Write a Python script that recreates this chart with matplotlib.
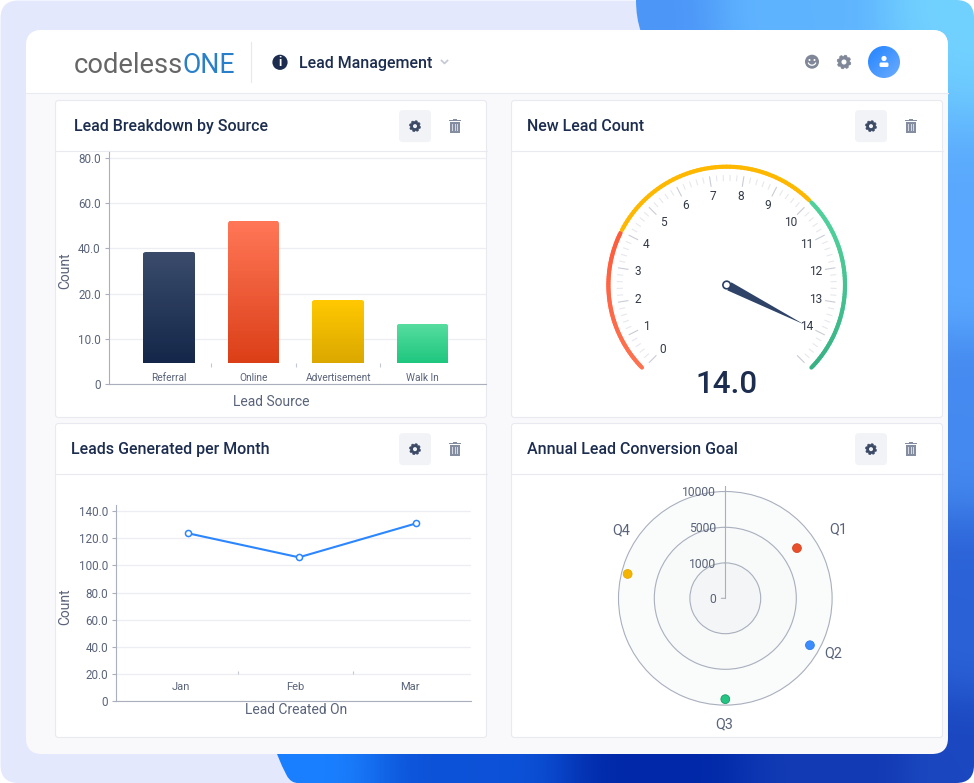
import numpy as np
import matplotlib
matplotlib.use('Agg')
import matplotlib.pyplot as plt
from matplotlib.collections import LineCollection
from matplotlib.colors import LinearSegmentedColormap, to_rgb
from matplotlib.patches import Circle, FancyBboxPatch, PathPatch, Polygon, Rectangle
from matplotlib.path import Path
from matplotlib.transforms import IdentityTransform

plt.rcParams['font.family'] = ['Roboto', 'DejaVu Sans']

# Bar chart data
sources = ['Referral', 'Online', 'Advertisement', 'Walk In']
source_counts = [38.5, 52.0, 18.6, 13.3]
source_ticks = [0, 10, 20, 40, 60, 80]
source_tick_labels = ['0', '10.0', '20.0', '40.0', '60.0', '80.0']
bar_base = 4.7

# Line chart data
months = ['Jan', 'Feb', 'Mar']
month_points = [0.06, 1.03, 2.05]
month_counts = [123.8, 106.0, 131.0]
month_ticks = [0, 20, 40, 60, 80, 100, 120, 140]
month_tick_labels = ['0', '20.0', '40.0', '60.0', '80.0', '100.0', '120.0', '140.0']

# Gauge data
gauge_value = 14.0
gauge_min, gauge_max = 0, 15
gauge_labels = list(range(0, 15))
gauge_zones = [(0, 4), (4, 10), (10, 15)]

# Radar data
quarters = ['Q1', 'Q2', 'Q3', 'Q4']
quarter_angles = [55, 119, 180, 284]
quarter_values = [7300, 8600, 9170, 9140]
radar_ticks = [0, 1000, 5000, 10000]

NAVY = '#1c2d4f'
GREY = '#596379'
AXIS = '#a9afbd'
GRID = '#eceef3'
W, H = 974, 783

fig = plt.figure(figsize=(W / 100, H / 100), dpi=100, facecolor='white')
bg = fig.add_axes([0, 0, 1, 1], zorder=0)
bg.set_xlim(0, W)
bg.set_ylim(H, 0)
bg.axis('off')


def chart_axes(left, top, right, bottom, **kw):
    ax = fig.add_axes([left / W, 1 - bottom / H, (right - left) / W, (bottom - top) / H], zorder=2, **kw)
    ax.patch.set_alpha(0)
    return ax


def rounded(x0, y0, x1, y1, r, **kw):
    p = FancyBboxPatch((x0, y0), x1 - x0, y1 - y0, boxstyle=f'round,pad=0,rounding_size={r}', **kw)
    bg.add_patch(p)
    return p


def gear(cx, cy, r, color, hole):
    ang = np.radians(np.arange(0, 360, 15) + 7.5)
    rad = np.where(np.arange(24) % 3 == 2, r * 0.78, r)
    bg.add_patch(Polygon(np.c_[cx + rad * np.cos(ang), cy + rad * np.sin(ang)], fc=color, ec=color, lw=0.4, zorder=6))
    bg.add_patch(Circle((cx, cy), r * 0.36, fc=hole, ec='none', zorder=6))


def trash(cx, cy):
    c = '#858da0'
    bg.add_patch(Rectangle((cx - 5, cy - 4), 10, 10.5, fc=c, ec='none', zorder=6))
    bg.add_patch(Rectangle((cx - 6, cy - 6), 12, 1.3, fc=c, ec='none', zorder=6))
    bg.add_patch(Rectangle((cx - 2, cy - 7.5), 4, 1.5, fc=c, ec='none', zorder=6))
    for dx in (-2.5, 0, 2.5):
        bg.add_patch(Rectangle((cx + dx - 0.5, cy - 2.5), 1, 7.5, fc='#d5d8e0', ec='none', zorder=6))


# Blue shape behind the main card
ctrl = np.array([[974, 0, 0x72, 0xd2, 0xff], [800, 5, 0x5f, 0xb4, 0xff], [640, 15, 0x4c, 0x96, 0xf8],
                 [974, 250, 0x5a, 0xa8, 0xff], [974, 420, 0x45, 0x8a, 0xf0], [974, 620, 0x2b, 0x62, 0xd8],
                 [974, 783, 0x1b, 0x48, 0xc0], [850, 770, 0x12, 0x3a, 0xb4], [660, 770, 0x00, 0x28, 0xa8],
                 [470, 770, 0x0c, 0x52, 0xd8], [285, 770, 0x1a, 0x80, 0xff]], dtype=float)
gx, gy = np.meshgrid(np.linspace(270, 974, 90), np.linspace(0, 783, 90))
d = np.hypot(gx[..., None] - ctrl[:, 0], gy[..., None] - ctrl[:, 1]) + 1
wts = d ** -3.0
grad = (wts[..., None] * ctrl[:, 2:]).sum(axis=2) / wts.sum(axis=2, keepdims=True) / 255

rounded(0.5, 0.5, W, H, 18, fc='#e4e8fc', ec='none', zorder=1)
verts = [(654, 0), (956, 0), (974, 0), (974, 18), (974, 765), (974, 783), (956, 783), (298, 783), (291, 783), (287, 776),
         (282, 766), (277, 754), (641, 32), (636, 18), (636, 0), (654, 0), (654, 0)]
codes = [Path.MOVETO, Path.LINETO, Path.CURVE3, Path.CURVE3, Path.LINETO, Path.CURVE3, Path.CURVE3, Path.LINETO,
         Path.CURVE3, Path.CURVE3, Path.LINETO, Path.LINETO, Path.LINETO, Path.CURVE3, Path.CURVE3, Path.LINETO, Path.CLOSEPOLY]
blue = PathPatch(Path(verts, codes), fc='none', ec='none', zorder=2)
bg.add_patch(blue)
im = bg.imshow(grad, extent=(270, 974, 783, 0), zorder=2, aspect='auto', interpolation='bicubic')
im.set_clip_path(blue)

# Main card and header
card = rounded(26, 30, 948, 754, 16, fc='#f9f9fc', ec='none', zorder=3)
head = Rectangle((26, 30), 922, 63, fc='white', ec='none', zorder=3)
bg.add_patch(head)
head.set_clip_path(card)
bg.plot([26, 948], [93, 93], color='#e9ebf2', lw=0.8, zorder=3)
bg.plot([250.5, 250.5], [42, 82], color='#e6e8ef', lw=0.8, zorder=3)
bg.text(73.5, 62.5, 'codeless', fontsize=19.7, color='#666666', va='center_baseline', ha='left', zorder=4)
bg.text(182.5, 62.5, 'ONE', fontsize=19.2, color='#2a7fc9', va='center_baseline', ha='left', zorder=4)
bg.add_patch(Circle((280, 62.3), 7.6, fc=NAVY, ec='none', zorder=4))
bg.text(280, 62.5, 'i', fontsize=9, color='white', weight='bold', ha='center', va='center', zorder=5)
bg.text(299, 61.7, 'Lead Management', fontsize=11.5, color=NAVY, weight='medium', va='center_baseline', zorder=4)
bg.plot([441.5, 444.5, 447.5], [60.5, 63.5, 60.5], color='#c4c8d2', lw=1.2, zorder=4)
bg.add_patch(Circle((812, 61.7), 7, fc='#7f8798', ec='none', zorder=4))
bg.add_patch(Circle((809.5, 60), 1, fc='white', ec='none', zorder=5))
bg.add_patch(Circle((814.5, 60), 1, fc='white', ec='none', zorder=5))
th = np.radians(np.linspace(20, 160, 15))
bg.plot(812 + 3.8 * np.cos(th), 62 + 3.2 * np.sin(th), color='white', lw=0.9, zorder=5)
avatar = Circle((884, 62), 16, fc='none', ec='none', zorder=4)
bg.add_patch(avatar)
av_cmap = LinearSegmentedColormap.from_list('av', ['#2284ff', '#6cacff'])
ag = bg.imshow(np.add.outer(np.linspace(0, 1, 32), np.linspace(0, 1, 32)), extent=(868, 900, 78, 46), cmap=av_cmap, aspect='auto', zorder=4)
ag.set_clip_path(avatar)
bg.set_xlim(0, W)
bg.set_ylim(H, 0)
bg.add_patch(Circle((884, 58.5), 2.6, fc='white', ec='none', zorder=5))
rounded(879.5, 62.5, 888.5, 67, 1.5, fc='white', ec='none', zorder=5)
gear(844, 62, 7, '#7f8798', 'white')

# Panel cards
panels = [(55.5, 100.5, 486.5, 417.5, 151, 'Lead Breakdown by Source', 74),
          (511.5, 100.5, 942.5, 417.5, 151, 'New Lead Count', 527),
          (55.5, 423.5, 486.5, 737.5, 474, 'Leads Generated per Month', 71),
          (511.5, 423.5, 942.5, 737.5, 474, 'Annual Lead Conversion Goal', 527)]
for x0, y0, x1, y1, yh, title, tx in panels:
    rounded(x0, y0, x1, y1, 3, fc='white', ec='#e8eaf0', lw=0.8, zorder=4)
    bg.plot([x0, x1], [yh, yh], color='#e8eaf0', lw=0.8, zorder=5)
    bg.text(tx, (y0 + yh) / 2 - 0.4, title, fontsize=11.5, color=NAVY, weight='medium', va='center_baseline', zorder=5)
    cy = (y0 + yh) / 2 + 0.4
    bx = x1 - 71.5
    rounded(bx - 16, cy - 16, bx + 16, cy + 16, 4, fc='#f1f3f7', ec='none', zorder=5)
    gear(bx, cy, 5.6, '#3c4a66', '#f1f3f7')
    trash(x1 - 31.5, cy)


def forward(v):
    return np.interp(v, [0, 10, 20, 40, 60, 80, 100], [0, 1, 2, 3, 4, 5, 6])


def inverse(p):
    return np.interp(p, [0, 1, 2, 3, 4, 5, 6], [0, 10, 20, 40, 60, 80, 100])


def style_axes(ax):
    for s in ('top', 'right'):
        ax.spines[s].set_visible(False)
    for s in ('left', 'bottom'):
        ax.spines[s].set_color(AXIS)
        ax.spines[s].set_linewidth(0.8)
    ax.grid(axis='y', color=GRID, lw=0.9)
    ax.set_axisbelow(True)
    ax.tick_params(axis='y', length=3, width=0.8, color=AXIS, labelcolor=GREY, labelsize=8.4, pad=3)
    ax.tick_params(axis='x', length=0, labelcolor=GREY, labelsize=7.3)


def axis_text(x, y, s, **kw):
    bg.text(x, y, s, fontsize=10, color=GREY, ha='center', va='center', zorder=6, **kw)


# Bar chart
ax1 = chart_axes(109.2, 152, 486, 384)
ax1.set_yscale('function', functions=(forward, inverse))
ax1.set_xlim(-0.711, 3.75)
ax1.set_ylim(0, 82.6)
ax1.autoscale(False)
style_axes(ax1)
ax1.set_yticks(source_ticks, source_tick_labels, va='center_baseline')
ax1.minorticks_off()
ax1.set_xticks(range(4), sources, va='center_baseline')
ax1.tick_params(axis='x', pad=-5)
axis_text(65.5, 271, 'Count', rotation=90)
axis_text(271, 401.5, 'Lead Source')
ax1.vlines([0.5, 1.5, 2.5], 3.8, bar_base, color='#c4c8d2', lw=0.8)
bar_colors = [('#3a4b6a', '#14274a'), ('#ff7656', '#db3f18'), ('#ffc800', '#dba800'), ('#55dc9e', '#1fc67f')]
bar_w = 0.61
bars = ax1.bar(range(4), np.array(source_counts) - bar_base, bottom=bar_base, width=bar_w, color=[c[1] for c in bar_colors], zorder=3)
fig.canvas.draw()
for i, (rect, val, cc) in enumerate(zip(bars, source_counts, bar_colors)):
    pts = ax1.transData.transform([[i - bar_w / 2, bar_base], [i + bar_w / 2, val]])
    # clip box runs below the base so only the top corners are rounded
    clip = FancyBboxPatch(pts[0] - [0, 10], pts[1][0] - pts[0][0], pts[1][1] - pts[0][1] + 10,
                          boxstyle='round,pad=0,rounding_size=2.5', transform=IdentityTransform())
    levels = inverse(np.linspace(forward(bar_base), forward(val), 41))
    cmap = LinearSegmentedColormap.from_list(f'b{i}', [cc[1], cc[0]])
    mesh = ax1.pcolormesh([i - bar_w / 2, i + bar_w / 2], levels, np.linspace(0, 1, 40)[:, None], cmap=cmap, zorder=4, antialiased=False)
    rect.set_visible(False)
    mesh.set_clip_path(clip)
ax1.set_xlim(-0.711, 3.75)
ax1.set_ylim(0, 82.6)

# Line chart
ax2 = chart_axes(116.3, 505, 471, 701)
ax2.set_xlim(-0.561, 2.529)
ax2.set_ylim(0, 144.6)
style_axes(ax2)
ax2.set_yticks(month_ticks, month_tick_labels, va='center_baseline')
ax2.set_xticks(range(3), months, va='center_baseline')
ax2.tick_params(axis='x', pad=-10.8, labelsize=8)
ax2.vlines([0.5, 1.5], 20, 22.5, color='#c4c8d2', lw=0.8)
ax2.plot(month_points, month_counts, color='#2b86ff', lw=1.5, marker='o', ms=4.4, mfc='white', mec='#2b86ff', mew=1.1, zorder=4)
axis_text(65.5, 606.7, 'Count', rotation=90)
axis_text(296.3, 710.5, 'Lead Created On')

# Gauge, axes units are pixels around the hub
gc_x, gc_y, gr = 726.7, 285, 130
ax3 = chart_axes(gc_x - gr, gc_y - gr, gc_x + gr, gc_y + gr)
ax3.set_xlim(-gr, gr)
ax3.set_ylim(-gr, gr)
ax3.axis('off')


def val_angle(v):
    return np.radians(225 - 18 * np.asarray(v, dtype=float))


def polar_xy(v, r):
    a = val_angle(v)
    return r * np.cos(a), r * np.sin(a)


# (colour at the top of the arc, colour at the bottom)
zone_cols = [('#ff5a3a', '#ff7250'), ('#ffb800', '#ffb800'), ('#4fd09a', '#37b184')]
for (v0, v1), (c_top, c_bot) in zip(gauge_zones, zone_cols):
    vals = np.linspace(v0 + 0.04, v1 - 0.04, 61)
    xs, ys = polar_xy(vals, 118.3)
    seg = np.stack([np.c_[xs[:-1], ys[:-1]], np.c_[xs[1:], ys[1:]]], axis=1)
    t = np.clip((60 - ys[:-1]) / 145, 0, 1)[:, None]
    cols = (1 - t) * np.array(to_rgb(c_top)) + t * np.array(to_rgb(c_bot))
    ax3.add_collection(LineCollection(seg, colors=cols, lw=3, capstyle='round'))

minor = np.arange(gauge_min * 5, gauge_max * 5 + 1) / 5
for v in minor:
    major = abs(v - round(v)) < 1e-6
    x0, y0 = polar_xy(v, 100 if major else 104.5)
    x1, y1 = polar_xy(v, 109.5)
    ax3.plot([x0, x1], [y0, y1], color='#c9ccd6' if major else '#e6e8ed', lw=0.8, zorder=1)
for v in gauge_labels:
    x, y = polar_xy(v, 90)
    ax3.text(x, y + 0.8, str(v), fontsize=8.6, color='#333a47', ha='center', va='center_baseline', zorder=3)

a = val_angle(gauge_value)
ux, uy = np.cos(a), np.sin(a)
ax3.add_patch(Polygon([(3 * ux + 4.5 * uy, 3 * uy - 4.5 * ux), (3 * ux - 4.5 * uy, 3 * uy + 4.5 * ux), (87 * ux, 87 * uy)],
                      fc='#2e4367', ec='none', zorder=4))
ax3.add_patch(Circle((0, 0), 3.8, fc='white', ec='#2a3f63', lw=1.2, zorder=5))
ax3.text(0, -96.7, f'{gauge_value:.1f}', fontsize=22.5, color=NAVY, weight='medium', ha='center', va='center_baseline', zorder=4)

# Radar
rc_x, rc_y, rr = 725.3, 598.3, 112.3
ax4 = fig.add_axes([(rc_x - rr) / W, 1 - (rc_y + rr) / H, 2 * rr / W, 2 * rr / H], projection='polar', zorder=2)
ax4.patch.set_alpha(0)


def r_forward(v):
    return np.interp(v, [0, 1000, 5000, 10000, 15000], [0, 35.4, 71, 106.8, 142.6])


def r_inverse(p):
    return np.interp(p, [0, 35.4, 71, 106.8, 142.6], [0, 1000, 5000, 10000, 15000])


ax4.set_theta_zero_location('N')
ax4.set_theta_direction(-1)
ax4.set_rscale('function', functions=(r_forward, r_inverse))
r_top = r_inverse(rr)
ax4.set_rlim(0, r_top)
ax4.spines['polar'].set_visible(False)
ax4.set_xticks([])
ax4.set_yticks(radar_ticks[1:], [])
ax4.minorticks_off()
ax4.grid(axis='y', color='#a9afbd', lw=0.8)
ring_t = np.linspace(0, 2 * np.pi, 200)
ax4.fill_between(ring_t, 0, 10000, color='#fafbfb', zorder=0, lw=0)
ax4.fill_between(ring_t, 0, 5000, color='#f8f9f9', zorder=0, lw=0)
ax4.fill_between(ring_t, 0, 1000, color='#f4f5f6', zorder=0, lw=0)
ax4.plot([0, 0], [0, r_top], color='#a9afbd', lw=0.8, zorder=2)
for v in radar_ticks:
    ax4.annotate(str(v), xy=(0, v), xytext=(-9, 0), textcoords='offset pixels', ha='right', va='center_baseline', fontsize=8.7,
                 color=GREY, zorder=3)
ax4.annotate('', xy=(0, 0), xytext=(-4, 0), textcoords='offset pixels',
             arrowprops=dict(arrowstyle='-', color='#a9afbd', lw=0.8, shrinkA=0, shrinkB=0))
ax4.scatter(np.radians(quarter_angles), quarter_values, s=40, c=['#e8502c', '#3b8dff', '#25c483', '#f5b400'],
            edgecolors=['#d9451f', '#2f7ee8', '#1a9a66', '#e5a800'], linewidths=0.6, zorder=4, clip_on=False)
ax4.set_rlim(0, r_top)
q_pos = [(838.7, 528), (833, 651.8), (724, 722.8), (621, 528.8)]
for q, (qx, qy) in zip(quarters, q_pos):
    bg.text(qx, qy, q, fontsize=10.4, color=GREY, ha='center', va='center_baseline', zorder=6)

fig.savefig('out.png', dpi=100)
